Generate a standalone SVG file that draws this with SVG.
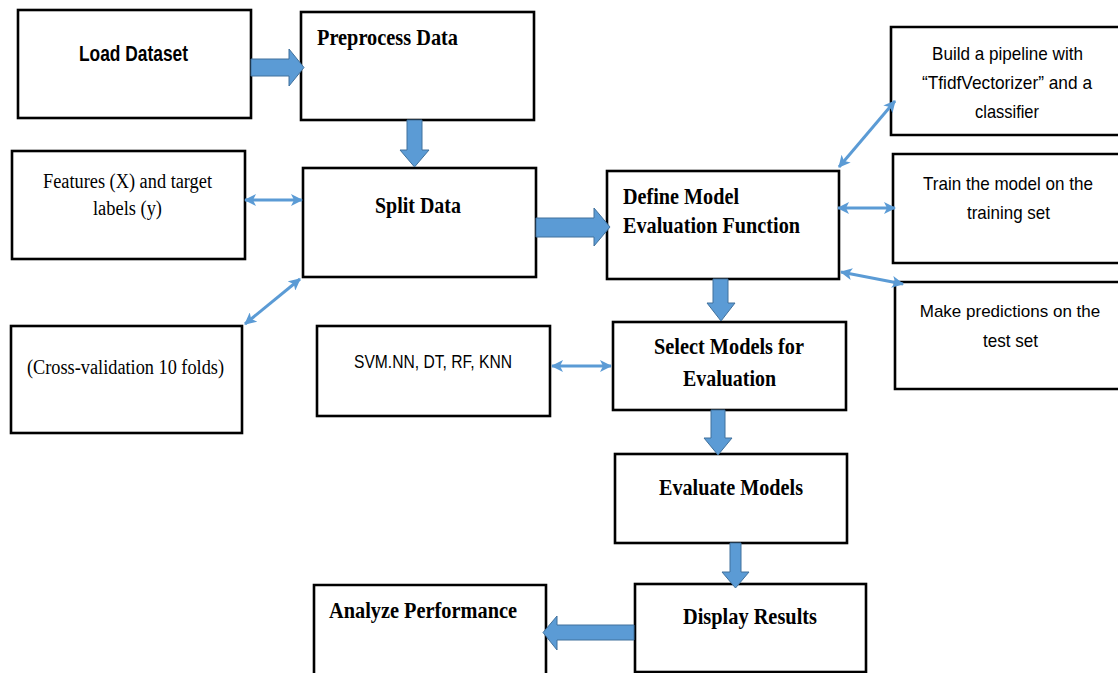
<svg xmlns="http://www.w3.org/2000/svg" width="1118" height="673" viewBox="0 0 1118 673">
<style>
.box{fill:#fff;stroke:#000;stroke-width:2.6}
.open{fill:none;stroke:#000;stroke-width:2.6}
.h{font-family:"Liberation Serif","Times New Roman",serif;font-weight:bold;font-size:23px;fill:#000}
.s{font-family:"Liberation Serif","Times New Roman",serif;font-size:20px;fill:#000}
.c{font-family:"Liberation Sans",Arial,sans-serif;font-size:19px;fill:#000}
.cb{font-family:"Liberation Sans",Arial,sans-serif;font-weight:bold;font-size:22px;fill:#000}
.blk{fill:#5B9BD5;stroke:#41719C;stroke-width:1}
.dbl{stroke:#5B9BD5;stroke-width:3;fill:none;marker-start:url(#ah);marker-end:url(#ah)}
</style>
<defs>
<marker id="ah" viewBox="0 0 12 12" refX="11" refY="6" markerWidth="12" markerHeight="12" markerUnits="userSpaceOnUse" orient="auto-start-reverse">
<path d="M0,0 L12,6 L0,12 L3,6 Z" fill="#5B9BD5"/>
</marker>
</defs>
<rect width="1118" height="673" fill="#fff"/>
<g id="load"><rect class="box" x="18" y="10" width="233" height="108"/><text class="cb" x="79" y="61" textLength="109" lengthAdjust="spacingAndGlyphs">Load Dataset</text></g>
<g id="preprocess"><rect class="box" x="301" y="12" width="233" height="108"/><text class="h" x="317" y="45" textLength="141" lengthAdjust="spacingAndGlyphs">Preprocess Data</text></g>
<g id="features"><rect class="box" x="12" y="151" width="233" height="108"/><text class="s" x="43" y="188" textLength="169" lengthAdjust="spacingAndGlyphs">Features (X) and target</text><text class="s" x="93" y="215" textLength="69" lengthAdjust="spacingAndGlyphs">labels (y)</text></g>
<g id="split"><rect class="box" x="303" y="168" width="233" height="109"/><text class="h" x="375" y="213" textLength="86" lengthAdjust="spacingAndGlyphs">Split Data</text></g>
<g id="crossval"><rect class="box" x="11" y="326" width="231" height="107"/><text class="s" x="27" y="374" textLength="197" lengthAdjust="spacingAndGlyphs">(Cross-validation 10 folds)</text></g>
<g id="svm"><rect class="box" x="317" y="326" width="233" height="90"/><text class="c" x="354" y="368" textLength="158" lengthAdjust="spacingAndGlyphs">SVM.NN, DT, RF, KNN</text></g>
<g id="define"><rect class="box" x="607" y="171" width="232" height="108"/><text class="h" x="623" y="204" textLength="116" lengthAdjust="spacingAndGlyphs">Define Model</text><text class="h" x="623" y="233" textLength="177" lengthAdjust="spacingAndGlyphs">Evaluation Function</text></g>
<g id="build"><path class="open" d="M1118,27 H891 V135 H1118"/><text class="c" x="932" y="60" textLength="151" lengthAdjust="spacingAndGlyphs">Build a pipeline with</text><text class="c" x="922" y="89" textLength="170" lengthAdjust="spacingAndGlyphs">“TfidfVectorizer” and a</text><text class="c" x="975" y="118" textLength="64" lengthAdjust="spacingAndGlyphs">classifier</text></g>
<g id="train"><path class="open" d="M1118,154 H893 V263 H1118"/><text class="c" x="923" y="190" textLength="170" lengthAdjust="spacingAndGlyphs">Train the model on the</text><text class="c" x="967" y="219" textLength="83" lengthAdjust="spacingAndGlyphs">training set</text></g>
<g id="predict"><path class="open" d="M1118,282 H895 V389 H1118"/><text class="c" x="1010" y="317" style="font-size:17px" text-anchor="middle">Make predictions on the</text><text class="c" x="983" y="347" textLength="55" lengthAdjust="spacingAndGlyphs">test set</text></g>
<g id="select"><rect class="box" x="613" y="322" width="233" height="88"/><text class="h" x="654" y="354" textLength="150" lengthAdjust="spacingAndGlyphs">Select Models for</text><text class="h" x="683" y="386" textLength="93" lengthAdjust="spacingAndGlyphs">Evaluation</text></g>
<g id="evaluate"><rect class="box" x="615" y="454" width="232" height="89"/><text class="h" x="659" y="495" textLength="144" lengthAdjust="spacingAndGlyphs">Evaluate Models</text></g>
<g id="display"><rect class="box" x="635" y="584" width="231" height="88"/><text class="h" x="683" y="624" textLength="134" lengthAdjust="spacingAndGlyphs">Display Results</text></g>
<g id="analyze"><path class="open" d="M314,673 V585 H546 V673"/><text class="h" x="329" y="618" textLength="188" lengthAdjust="spacingAndGlyphs">Analyze Performance</text></g>
<g id="connectors">
<polygon class="blk" points="251,59 289,59 289,49 304,67.5 289,86 289,76 251,76"/>
<polygon class="blk" points="407,120 422,120 422,150 429,150 414.5,167 400,150 407,150"/>
<polygon class="blk" points="536,218 594,218 594,208 610,227 594,246 594,237 536,237"/>
<polygon class="blk" points="713,279 728,279 728,303 735,303 721,321 707,303 713,303"/>
<polygon class="blk" points="711,410 725,410 725,438 732,438 718,455 704,438 711,438"/>
<polygon class="blk" points="730,543 741,543 741,572 749,572 735.5,588 722,572 730,572"/>
<polygon class="blk" points="634,625 557,625 557,616 543,632.5 557,650 557,640 634,640"/>
<line class="dbl" x1="245" y1="200" x2="302" y2="200"/>
<line class="dbl" x1="300" y1="279" x2="245" y2="324"/>
<line class="dbl" x1="552" y1="366" x2="611" y2="366"/>
<line class="dbl" x1="839" y1="167" x2="895" y2="101"/>
<line class="dbl" x1="838" y1="208" x2="895" y2="208"/>
<line class="dbl" x1="841" y1="272" x2="903" y2="284"/>
</g>
</svg>
